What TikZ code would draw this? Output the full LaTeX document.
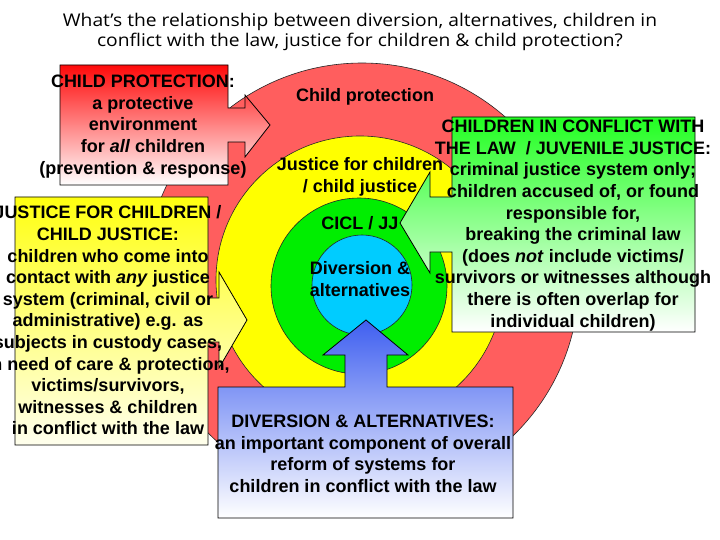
\documentclass[tikz,border=0pt]{standalone}
\usepackage{fontspec}
\setmainfont{Liberation Sans}
\newfontfamily\titlefont{Open Sans}
\definecolor{redc}{HTML}{FF5E5E}
\definecolor{yellowc}{HTML}{FFFF00}
\definecolor{greenc}{HTML}{00EE00}
\definecolor{bluec}{HTML}{00CCFF}
\definecolor{cpred}{HTML}{FF0A0A}
\definecolor{cpyel}{HTML}{FFFF10}
\definecolor{cpyelb}{HTML}{FFFFEE}
\definecolor{cpgrn}{HTML}{22FF22}
\definecolor{cpblu}{HTML}{3F5FF0}
\begin{document}
\begin{tikzpicture}[x=1pt,y=-1pt,
  ring/.style={draw=black!85, line width=0.6pt},
  callout/.style={draw=black, line width=0.8pt},
  lbl/.style={font=\bfseries\fontsize{18}{21.6}\selectfont, align=center, inner sep=0pt, text=black},
  ttl/.style={font=\titlefont\fontsize{17.5}{20}\selectfont, align=center, inner sep=0pt, text=black, xscale=1.1}]
\useasboundingbox (0,0) rectangle (720,540);
\fill[white] (0,0) rectangle (720,540);
% title
\node[ttl] (title) at (360,32) {What’s the relationship between diversion, alternatives, children in\\conflict with the law, justice for children \& child protection?};
% concentric circles
\filldraw[ring, fill=redc] (362,280) circle[radius=217pt];
\filldraw[ring, fill=yellowc] (360,280) circle[radius=144pt];
\filldraw[ring, fill=greenc] (359,286) circle[radius=88pt];
\filldraw[ring, fill=bluec] (362,285) circle[radius=50pt];
% callout: child protection
\draw[callout, top color=cpred, bottom color=white]
  (60,65) -- (228,65) -- (228,108) -- (245,108) -- (245,95) -- (270,125)
  -- (245,157) -- (245,142) -- (228,142) -- (228,185) -- (60,185) -- cycle;
% callout: justice for children
\draw[callout, top color=cpyel, bottom color=cpyelb]
  (15,197) -- (208,197) -- (208,298) -- (219,298) -- (219,272) -- (247,320)
  -- (219,368) -- (219,342) -- (208,342) -- (208,445) -- (15,445) -- cycle;
% callout: CICL
\draw[callout, top color=cpgrn, bottom color=white]
  (452,117) -- (695,117) -- (695,332) -- (452,332) -- (452,252) -- (430,252)
  -- (430,273) -- (400,223) -- (430,172) -- (430,197) -- (452,197) -- cycle;
% callout: diversion
\draw[callout, top color=cpblu, bottom color=white]
  (218,387) -- (345,387) -- (345,355) -- (323,355) -- (366,320) -- (408,355)
  -- (387,355) -- (387,387) -- (513,387) -- (513,518) -- (218,518) -- cycle;
% ring labels
\node[lbl] (cp) at (365,97) {Child protection};
\node[lbl] (jfc) at (360,177) {Justice for children\\/ child justice};
\node[lbl] (cicl) at (360,223) {CICL / JJ};
\node[lbl] (div) at (360,279) {Diversion \&\\alternatives};
% callout texts
\node[lbl] (cptext) at (143,126.5) {CHILD PROTECTION:\\a protective\\environment\\for \textit{all} children\\(prevention \& response)};
\node[lbl] (jtext) at (108,320.5) {JUSTICE FOR CHILDREN /\\CHILD JUSTICE:\\children who come into\\contact with \textit{any} justice\\system (criminal, civil or\\administrative) e.g. as\\subjects in custody cases,\\in need of care \& protection,\\victims/survivors,\\witnesses \& children\\in conflict with the law};
\node[lbl] (ctext) at (573,225.5) {CHILDREN IN CONFLICT WITH\\THE LAW~ / JUVENILE JUSTICE:\\criminal justice system only;\\children accused of, or found\\responsible for,\\breaking the criminal law\\(does \textit{not} include victims/\\survivors or witnesses although\\there is often overlap for\\individual children)};
\node[lbl] (dtext) at (363,454) {DIVERSION \& ALTERNATIVES:\\an important component of overall\\reform of systems for\\children in conflict with the law};
\end{tikzpicture}
\end{document}
